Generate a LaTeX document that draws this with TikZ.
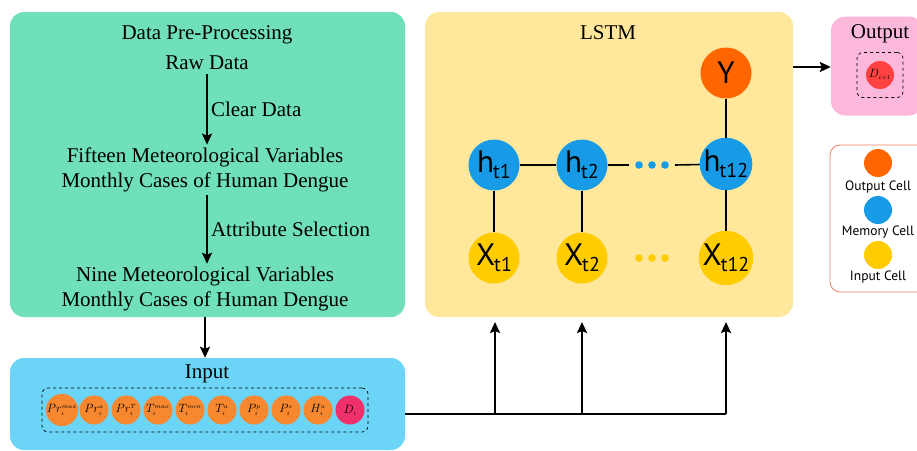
\documentclass[tikz,border=0pt]{standalone}
\usepackage{fontspec}
\setmainfont{Liberation Serif}
\newfontfamily\cellfont{PT Sans}
\usepackage{tikz}
\usetikzlibrary{arrows.meta, positioning}

\definecolor{prepcol}{RGB}{111,224,185}
\definecolor{incol}{RGB}{108,212,246}
\definecolor{lstmcol}{RGB}{255,232,156}
\definecolor{outcol}{RGB}{251,184,218}
\definecolor{varcol}{RGB}{247,136,47}
\definecolor{dencol}{RGB}{240,48,106}
\definecolor{predcol}{RGB}{254,66,66}
\definecolor{ycol}{RGB}{255,102,0}
\definecolor{hcol}{RGB}{23,155,230}
\definecolor{xcol}{RGB}{255,204,0}
\definecolor{legcol}{RGB}{240,128,96}

\tikzset{
  panel/.style={draw=none, rounded corners=14pt, inner sep=0pt},
  txt/.style={font=\fontsize{21}{25}\selectfont, align=center, inner sep=1pt},
  flow/.style={-{Stealth[length=11pt,width=10pt,inset=2pt]}, line width=2pt},
  link/.style={line width=1.6pt},
  var/.style={circle, fill=varcol, minimum size=29pt, inner sep=0pt, font=\fontsize{12}{12}\selectfont},
  cell/.style={circle, minimum size=51pt, inner sep=0pt, font=\cellfont\fontsize{31}{31}\selectfont},
  dashbox/.style={draw, dashed, rounded corners=6pt, line width=0.7pt, inner sep=0pt},
  legdot/.style={circle, minimum size=28pt, inner sep=0pt},
  legtxt/.style={font=\cellfont\fontsize{13.5}{14}\selectfont, inner sep=0pt}
}
\newcommand{\cellname}[2]{#1\kern-1pt{\fontsize{20}{20}\selectfont\raisebox{-6pt}{#2}}}
\newcommand{\varname}[3]{#1_{\scriptscriptstyle #2}^{\scriptscriptstyle #3}}

\begin{document}
\begin{tikzpicture}[x=1pt, y=-1pt]
\useasboundingbox (0,0) rectangle (917,450);

% boxes
\node[panel, fill=prepcol, minimum width=395pt, minimum height=305pt] (prep) at (207.5,164.5) {};
\node[panel, fill=incol, minimum width=395pt, minimum height=92pt] (input) at (207.5,404) {};
\node[panel, fill=lstmcol, minimum width=368pt, minimum height=305pt] (lstm) at (609,164.5) {};
\node[panel, fill=outcol, minimum width=92pt, minimum height=99pt] (out) at (877,66) {};
\node[panel, rounded corners=10pt, fill=white, draw=legcol, line width=0.8pt,
      minimum width=100pt, minimum height=147pt] (legend) at (880,218.5) {};

% pre-processing
\node[txt] (title) at (207,35) {Data Pre-Processing};
\node[txt] (raw) at (207,63) {Raw Data};
\node[txt] (fifteen) at (205,170) {Fifteen Meteorological Variables\\Monthly Cases of Human Dengue};
\node[txt] (nine) at (205,289) {Nine Meteorological Variables\\Monthly Cases of Human Dengue};
\draw[flow, shorten <=3pt, shorten >=2pt] (raw.south -| 207,0) -- (fifteen.north -| 207,0)
  node[midway, right, txt, xshift=2pt] {Clear Data};
\draw[flow, shorten <=2pt, shorten >=2pt] (fifteen.south -| 207,0) -- (nine.north -| 207,0)
  node[midway, right, txt, xshift=2pt] {Attribute Selection};
\draw[flow] (prep.south -| 205,0) -- (input.north -| 205,0);

% input variables
\node[txt] (intitle) at (207,374) {Input};
\node[dashbox, minimum width=326pt, minimum height=44pt] (vars) at (205,410) {};
\foreach \a/\b [count=\k] in {Pr/max,Pr/a,Pr/T,T/max,T/min,T/a,P/p,P/s,H/a}
  \node[var] (v\k) at (62+32*\k-32,410) {$\varname{\a}{i}{\b}$};
\node[var, fill=dencol] (v10) at (350,410) {$D_{\scriptscriptstyle i}$};

% lstm
\node[font=\fontsize{21}{21}\selectfont] (lstmtitle) at (608,33) {LSTM};
\node[cell, fill=ycol] (y) at (726,73) {Y};
\node[cell, fill=hcol] (h1) at (494,165) {\cellname{h}{t1}};
\node[cell, fill=hcol] (h2) at (582,165) {\cellname{h}{t2}};
\node[cell, fill=hcol] (h12) at (726,164) {\cellname{h}{t12}};
\node[cell, fill=xcol] (x1) at (494,258) {\cellname{X}{t1}};
\node[cell, fill=xcol] (x2) at (582,258) {\cellname{X}{t2}};
\node[cell, fill=xcol] (x12) at (726,258) {\cellname{X}{t12}};
\node[minimum width=46pt, inner sep=0pt] (hdots) at (652,165) {};
\node[minimum width=46pt, inner sep=0pt] (xdots) at (652,258) {};
\foreach \dx in {-13,0,13} {
  \fill[hcol] ([xshift=\dx pt]hdots.center) circle (3.8pt);
  \fill[xcol] ([xshift=\dx pt]xdots.center) circle (3.8pt);
}
\draw[link] (h1) -- (h2);
\draw[link] (h2) -- (hdots.west);
\draw[link] (hdots.east) -- (h12);
\draw[link] (x1) -- (h1);
\draw[link] (x2) -- (h2);
\draw[link] (x12) -- (h12);
\draw[link] (h12) -- (y);

% input bus into lstm
\coordinate (bus) at (726,414);
\coordinate (in1) at (495,322);
\coordinate (in2) at (582,322);
\coordinate (in12) at (726,322);
\draw[link, line width=2pt] (input.east |- bus) -- (bus);
\foreach \c in {in1,in2,in12}
  \draw[flow] (\c |- bus) -- (\c);

% output
\node[txt] (outtitle) at (880,34) {Output};
\node[dashbox, minimum width=46pt, minimum height=45pt] (outbox) at (880,75) {};
\node[var, fill=predcol, minimum size=28pt, font=\fontsize{12}{12}\selectfont] (pred) at (880,75) {$D_{\scriptscriptstyle i+1}$};
\draw[flow] (lstm.east |- 0,67) -- (out.west |- 0,67);

% legend
\node[legdot, fill=ycol] (lo) at (878,163) {};
\node[legtxt] (lotxt) at (878,187) {Output Cell};
\node[legdot, fill=hcol] (lm) at (878,210) {};
\node[legtxt] (lmtxt) at (878,232) {Memory Cell};
\node[legdot, fill=xcol] (li) at (878,255) {};
\node[legtxt] (litxt) at (878,277) {Input Cell};
\end{tikzpicture}
\end{document}
